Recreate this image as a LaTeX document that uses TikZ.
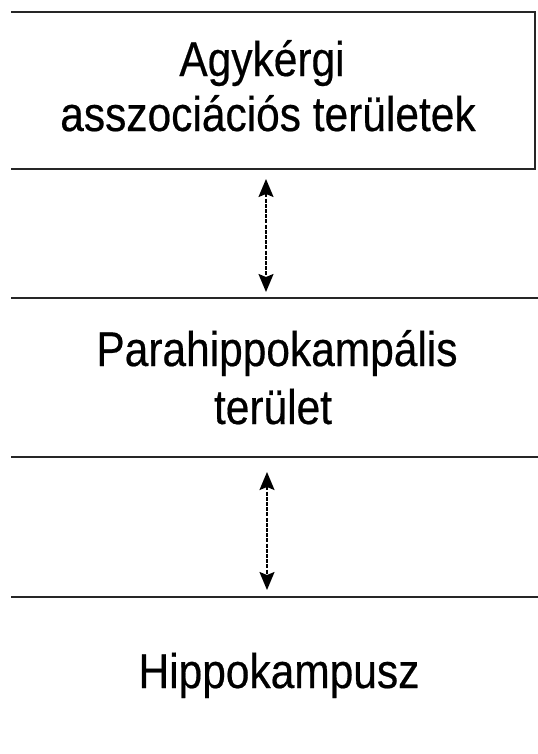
\documentclass[tikz,border=0pt]{standalone}
\usepackage{fontspec}
\setmainfont{Liberation Sans}[FakeStretch=0.87,FakeBold=0.4]
\usetikzlibrary{arrows.meta}
\begin{document}
\begin{tikzpicture}[x=1bp,y=-1bp,
  rule/.style={line width=1.6bp, black!85},
  lbl/.style={font=\fontsize{49}{57}\selectfont, anchor=base, inner sep=0pt},
  link/.style={line width=1.8bp, dash pattern=on 4bp off 1.2bp,
    {Stealth[length=18bp,width=15bp,inset=3bp]}-{Stealth[length=18bp,width=15bp,inset=3bp]}}]
\useasboundingbox (0,0) rectangle (538,754);
\fill[white] (0,0) rectangle (538,754);
% top box (left edge absent)
\draw[rule] (11,12) -- (535,12) -- (535,169) -- (11,169);
% band rules
\draw[rule] (11,298) -- (538,298);
\draw[rule] (11,457) -- (538,457);
\draw[rule] (11,597) -- (538,597);
% texts
\node[lbl] (agy1) at (262,76) {Agykérgi};
\node[lbl] (agy2) at (268,131) {asszociációs területek};
\node[lbl] (para1) at (277,366) {Parahippokampális};
\node[lbl] (para2) at (273,424) {terület};
\node[lbl] (hippo) at (279,688) {Hippokampusz};
% connector ends
\coordinate (c1a) at (266,179);
\coordinate (c1b) at (266,292);
\coordinate (c2a) at (267,472);
\coordinate (c2b) at (267,590);
\draw[link] (c1a) -- (c1b);
\draw[link] (c2a) -- (c2b);
\end{tikzpicture}
\end{document}
